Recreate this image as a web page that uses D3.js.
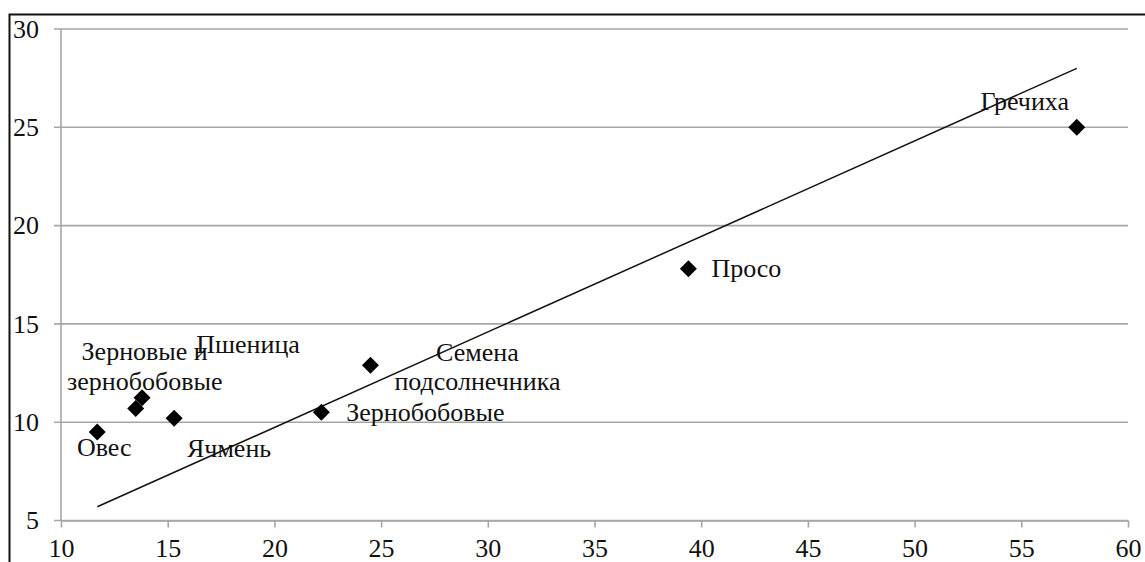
<!DOCTYPE html>
<html>
<head>
<meta charset="utf-8">
<script src="https://cdn.jsdelivr.net/npm/d3@7"></script>
<style>
  html, body { margin: 0; padding: 0; background: #fff; }
  svg { display: block; }
  svg text { font-family: "Liberation Serif", "Times New Roman", "DejaVu Serif", serif; font-size: 26px; fill: #111; }
</style>
</head>
<body>
<svg id="chart" width="1145" height="562"></svg>
<script>
// ---- data ----
const crops = ["Овес", "Зерновые и зернобобовые", "Пшеница", "Ячмень", "Зернобобовые", "Семена подсолнечника", "Просо", "Гречиха"];
const xValues = [11.7, 13.5, 13.8, 15.3, 22.2, 24.5, 39.4, 57.6];
const yValues = [9.5, 10.7, 11.25, 10.2, 10.5, 12.9, 17.8, 25.0];
const trendX = [11.7, 57.6];
const trendY = [5.7, 28.0];
const xTicks = [10, 15, 20, 25, 30, 35, 40, 45, 50, 55, 60];
const yTicks = [5, 10, 15, 20, 25, 30];

// ---- label layout (pixel offsets from the point; lines of text) ----
const labelLayout = [
  { lines: ["Овес"], dx: 7, dy: [24] },
  { lines: ["Зерновые и", "зернобобовые"], dx: 9, dy: [-48, -18.5] },
  { lines: ["Пшеница"], dx: 106, dy: [-45] },
  { lines: ["Ячмень"], dx: 55, dy: [38.5] },
  { lines: ["Зернобобовые"], dx: 104, dy: [8.3] },
  { lines: ["Семена", "подсолнечника"], dx: 107, dy: [-4, 25] },
  { lines: ["Просо"], dx: 58, dy: [8] },
  { lines: ["Гречиха"], dx: -52, dy: [-17.3] }
];

const svg = d3.select("#chart");

const x = d3.scaleLinear().domain([10, 60]).range([61, 1128]);
const y = d3.scaleLinear().domain([5, 30]).range([520.5, 29]);

// outer frame
svg.append("rect")
  .attr("x", 9.5).attr("y", 14.5)
  .attr("width", 1300).attr("height", 700)
  .attr("fill", "none").attr("stroke", "#111").attr("stroke-width", 2);

// horizontal gridlines
svg.append("g").selectAll("line").data(yTicks).join("line")
  .attr("x1", 54).attr("x2", 1128)
  .attr("y1", d => y(d)).attr("y2", d => y(d))
  .attr("stroke", "#a6a6a6").attr("stroke-width", 1.6);

// y axis line
svg.append("line")
  .attr("x1", 61).attr("x2", 61)
  .attr("y1", y(30)).attr("y2", y(5))
  .attr("stroke", "#a6a6a6").attr("stroke-width", 1.6);

// x axis
const xAxis = svg.append("g")
  .attr("transform", `translate(0,${y(5)})`)
  .call(d3.axisBottom(x).tickValues(xTicks).tickSize(7).tickSizeOuter(0).tickPadding(11).tickFormat(d3.format("d")));
xAxis.attr("font-family", null).attr("font-size", null);
xAxis.select(".domain").attr("stroke", "#a6a6a6").attr("stroke-width", 1.6);
xAxis.selectAll(".tick line").attr("stroke", "#a6a6a6").attr("stroke-width", 1.6);

// y axis labels
const yAxis = svg.append("g")
  .attr("transform", `translate(61,0)`)
  .call(d3.axisLeft(y).tickValues(yTicks).tickSize(0).tickPadding(22).tickFormat(d3.format("d")));
yAxis.attr("font-family", null).attr("font-size", null);
yAxis.select(".domain").remove();

// trend line
svg.append("line")
  .attr("x1", x(trendX[0])).attr("y1", y(trendY[0]))
  .attr("x2", x(trendX[1])).attr("y2", y(trendY[1]))
  .attr("stroke", "#111").attr("stroke-width", 1.5);

// points
const pts = crops.map((c, i) => ({ name: c, x: xValues[i], y: yValues[i], lab: labelLayout[i] }));
svg.append("g").selectAll("path").data(pts).join("path")
  .attr("transform", d => `translate(${x(d.x)},${y(d.y)})`)
  .attr("d", "M0,-8.5L8.5,0L0,8.5L-8.5,0Z")
  .attr("fill", "#000");

// labels
const lg = svg.append("g");
pts.forEach(d => {
  d.lab.lines.forEach((t, j) => {
    lg.append("text")
      .attr("x", x(d.x) + d.lab.dx)
      .attr("y", y(d.y) + d.lab.dy[j])
      .attr("text-anchor", "middle")
      .text(t);
  });
});
</script>
</body>
</html>
